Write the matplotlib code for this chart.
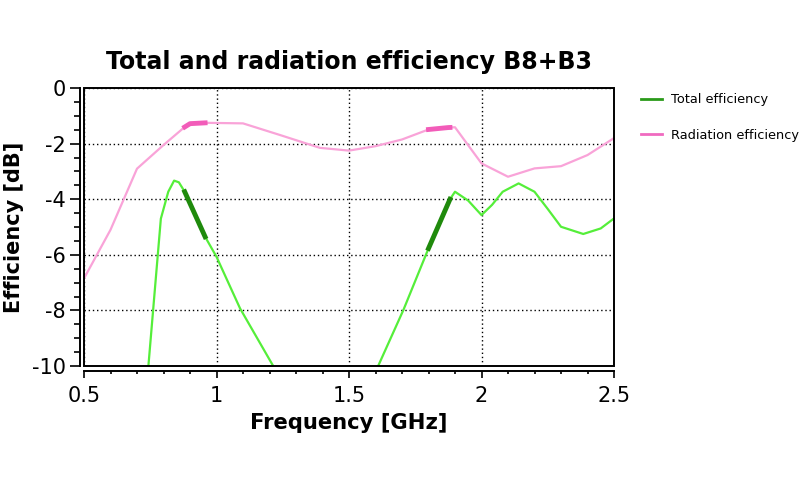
import numpy as np
import matplotlib
matplotlib.use("Agg")
from matplotlib import pyplot as plt
from matplotlib.ticker import MultipleLocator

# radiation efficiency [dB]
rad_f = [0.5, 0.6, 0.7, 0.8, 0.88, 0.9, 0.96, 1.1, 1.24, 1.39, 1.5, 1.6, 1.7, 1.8, 1.875, 1.9, 2.0, 2.1, 2.2, 2.3, 2.4, 2.5]
rad_db = [-6.85, -5.1, -2.9, -2.05, -1.4, -1.28, -1.25, -1.27, -1.69, -2.15, -2.25, -2.09, -1.85, -1.49, -1.42, -1.41, -2.71, -3.19, -2.89, -2.81, -2.41, -1.8]

# total efficiency [dB]
tot_f = [0.70, 0.743, 0.79, 0.818, 0.84, 0.858, 0.88, 0.957, 1.0, 1.089, 1.214, 1.3, 1.45, 1.61, 1.705, 1.8, 1.881, 1.9, 1.95, 2.0, 2.04, 2.08, 2.14, 2.2, 2.25, 2.3, 2.384, 2.45, 2.5]
tot_db = [-16, -10.0, -4.7, -3.73, -3.33, -3.39, -3.73, -5.35, -6.07, -7.93, -10.0, -11.5, -12.5, -10.0, -7.99, -5.77, -4.0, -3.73, -4.05, -4.57, -4.2, -3.73, -3.43, -3.73, -4.35, -4.99, -5.25, -5.05, -4.69]

# highlighted bands (GHz)
bands = [(0.88, 0.957), (1.80, 1.881)]

plt.rcParams['axes.unicode_minus'] = False
fig = plt.figure(figsize=(8, 4.8), dpi=100)
ax = fig.add_axes([0.105, 0.2375, 0.6625, 0.579])

ax.plot(rad_f, rad_db, color='#f9a3d8', lw=1.6, zorder=3)
ax.plot(tot_f, tot_db, color='#55ee3a', lw=1.6, zorder=3)
for lo, hi in bands:
    fx = np.linspace(lo, hi, 20)
    ax.plot(fx, np.interp(fx, rad_f, rad_db), color='#f25cb9', lw=3.5, zorder=4)
    ax.plot(fx, np.interp(fx, tot_f, tot_db), color='#1f8a0c', lw=3.5, zorder=4)

# legend proxies
l1, = ax.plot([], [], color='#2a9a1a', lw=2, label='Total efficiency')
l2, = ax.plot([], [], color='#f06ac0', lw=2, label='Radiation efficiency')
fig.legend(handles=[l1, l2], loc='upper left', bbox_to_anchor=(0.787, 0.83),
           frameon=False, fontsize=9.3, labelspacing=1.75, handlelength=1.6,
           handletextpad=0.7)

ax.set_xlim(0.5, 2.5)
ax.set_ylim(-10, 0)
ax.set_xticks([0.5, 1, 1.5, 2, 2.5])
ax.set_xticklabels(['0.5', '1', '1.5', '2', '2.5'])
ax.set_yticks([0, -2, -4, -6, -8, -10])
ax.xaxis.set_minor_locator(MultipleLocator(0.1))
ax.yaxis.set_minor_locator(MultipleLocator(0.5))
ax.tick_params(axis='x', which='major', length=5, width=1.2, labelsize=15, pad=6)
ax.tick_params(axis='x', which='minor', length=2.5, width=1.2)
ax.tick_params(axis='y', which='major', length=7, width=1.2, labelsize=15, pad=3)
ax.tick_params(axis='y', which='minor', length=4, width=1.2)
ax.grid(True, color='black', ls=(0, (1, 2)), lw=1)

# offset axis lines, plus a closed frame round the plot area
ax.spines['left'].set_position(('outward', 3))
ax.spines['bottom'].set_position(('outward', 3.6))
ax.spines['top'].set_visible(False)
ax.spines['right'].set_visible(False)
for s in ('left', 'bottom'):
    ax.spines[s].set_linewidth(1.4)
ax.add_patch(plt.Rectangle((0, 0), 1, 1, transform=ax.transAxes, fill=False,
                           ec='black', lw=1.4, zorder=5, clip_on=False))

fig.text(0.436, 0.871, 'Total and radiation efficiency B8+B3', fontsize=17,
         fontweight='bold', ha='center', va='center')
fig.text(0.436, 0.119, 'Frequency [GHz]', fontsize=15.2, fontweight='bold',
         ha='center', va='center')
fig.text(0.017, 0.527, 'Efficiency [dB]', fontsize=15, fontweight='bold',
         ha='center', va='center', rotation=90)

plt.savefig('out.png', dpi=100)
